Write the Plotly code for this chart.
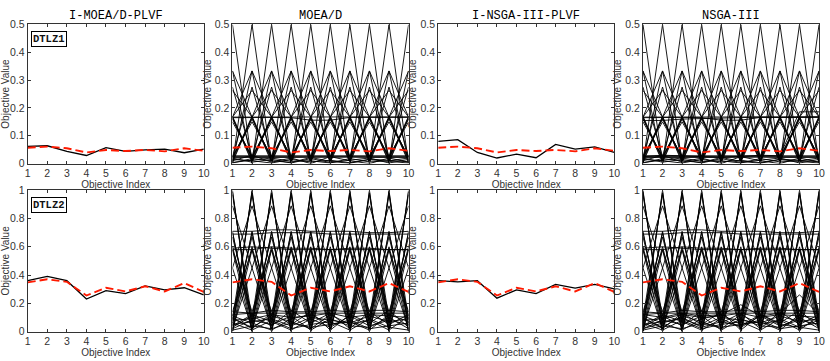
import plotly.graph_objects as go
from plotly.subplots import make_subplots

idx = list(range(1, 11))
titles = ["I-MOEA/D-PLVF", "MOEA/D", "I-NSGA-III-PLVF", "NSGA-III"]
problems = ["DTLZ1", "DTLZ2"]

# red dashed: reference (most preferred) point per problem
ref_dtlz1 = [0.057, 0.061, 0.055, 0.040, 0.049, 0.045, 0.049, 0.044, 0.055, 0.046]
ref_dtlz2 = [0.348, 0.370, 0.352, 0.255, 0.310, 0.284, 0.320, 0.284, 0.343, 0.280]

# interactive algorithms: single final solution
imoead_dtlz1 = [0.062, 0.064, 0.044, 0.029, 0.057, 0.044, 0.049, 0.052, 0.039, 0.052]
insga3_dtlz1 = [0.080, 0.086, 0.040, 0.020, 0.034, 0.021, 0.069, 0.052, 0.060, 0.040]
imoead_dtlz2 = [0.360, 0.390, 0.360, 0.230, 0.290, 0.268, 0.323, 0.295, 0.310, 0.260]
insga3_dtlz2 = [0.360, 0.352, 0.360, 0.236, 0.295, 0.268, 0.334, 0.307, 0.334, 0.302]

# whole populations (read approximately from the parallel coordinates)
moead_dtlz1 = [
    [0.5, 0.0, 0.5, 0.0, 0.5, 0.0, 0.5, 0.0, 0.5, 0.0],
    [0.0, 0.5, 0.0, 0.5, 0.0, 0.5, 0.0, 0.5, 0.0, 0.5],
    [0.333, 0.167, 0.333, 0.167, 0.333, 0.167, 0.333, 0.167, 0.333, 0.167],
    [0.167, 0.333, 0.167, 0.333, 0.167, 0.333, 0.167, 0.333, 0.167, 0.333],
    [0.333, 0.003, 0.333, 0.003, 0.333, 0.003, 0.333, 0.003, 0.333, 0.003],
    [0.003, 0.333, 0.003, 0.333, 0.003, 0.333, 0.003, 0.333, 0.003, 0.333],
    [0.275, 0.025, 0.275, 0.025, 0.275, 0.025, 0.275, 0.025, 0.275, 0.025],
    [0.025, 0.275, 0.025, 0.275, 0.025, 0.275, 0.025, 0.275, 0.025, 0.275],
    [0.263, 0.167, 0.263, 0.167, 0.263, 0.167, 0.263, 0.167, 0.263, 0.167],
    [0.167, 0.263, 0.167, 0.263, 0.167, 0.263, 0.167, 0.263, 0.167, 0.263],
    [0.167, 0.004, 0.167, 0.004, 0.167, 0.004, 0.167, 0.004, 0.167, 0.004],
    [0.004, 0.167, 0.004, 0.167, 0.004, 0.167, 0.004, 0.167, 0.004, 0.167],
    [0.170, 0.015, 0.170, 0.015, 0.170, 0.015, 0.170, 0.015, 0.170, 0.015],
    [0.015, 0.170, 0.015, 0.170, 0.015, 0.170, 0.015, 0.170, 0.015, 0.170],
    [0.160, 0.022, 0.160, 0.022, 0.160, 0.022, 0.160, 0.022, 0.160, 0.022],
    [0.022, 0.160, 0.022, 0.160, 0.022, 0.160, 0.022, 0.160, 0.022, 0.160],
    [0.150, 0.025, 0.150, 0.025, 0.150, 0.025, 0.150, 0.025, 0.150, 0.025],
    [0.025, 0.150, 0.025, 0.150, 0.025, 0.150, 0.025, 0.150, 0.025, 0.150],
    [0.164, 0.010, 0.164, 0.010, 0.164, 0.010, 0.164, 0.010, 0.164, 0.010],
    [0.010, 0.164, 0.010, 0.164, 0.010, 0.164, 0.010, 0.164, 0.010, 0.164],
    [0.167, 0.167, 0.168, 0.167, 0.167, 0.168, 0.168, 0.168, 0.168, 0.168],
    [0.165, 0.166, 0.166, 0.165, 0.156, 0.156, 0.166, 0.166, 0.167, 0.166],
    [0.025, 0.025, 0.025, 0.025, 0.025, 0.025, 0.025, 0.025, 0.025, 0.025],
    [0.028, 0.027, 0.028, 0.028, 0.027, 0.028, 0.028, 0.027, 0.028, 0.028],
    [0.022, 0.023, 0.022, 0.022, 0.023, 0.022, 0.023, 0.022, 0.022, 0.022],
    [0.010, 0.030, 0.005, 0.020, 0.000, 0.025, 0.010, 0.000, 0.020, 0.005],
    [0.020, 0.005, 0.015, 0.002, 0.018, 0.004, 0.012, 0.020, 0.002, 0.015],
    [0.004, 0.012, 0.020, 0.008, 0.010, 0.002, 0.018, 0.006, 0.010, 0.020],
    [0.015, 0.010, 0.002, 0.015, 0.006, 0.012, 0.003, 0.014, 0.008, 0.002],
    [0.002, 0.018, 0.010, 0.004, 0.022, 0.008, 0.001, 0.016, 0.012, 0.006],
]
nsga3_dtlz1 = moead_dtlz1 + [
    [0.025, 0.030, 0.028, 0.025, 0.022, 0.026, 0.030, 0.028, 0.186, 0.186],
    [0.155, 0.155, 0.160, 0.162, 0.165, 0.166, 0.167, 0.166, 0.168, 0.168],
]

moead_dtlz2 = [
    [1.00, 0.00, 1.00, 0.00, 1.00, 0.00, 1.00, 0.00, 1.00, 0.00],
    [0.00, 1.00, 0.00, 1.00, 0.00, 1.00, 0.00, 1.00, 0.00, 1.00],
    [0.97, 0.09, 0.97, 0.09, 0.97, 0.09, 0.97, 0.09, 0.97, 0.09],
    [0.09, 0.97, 0.09, 0.97, 0.09, 0.97, 0.09, 0.97, 0.09, 0.97],
    [0.99, 0.04, 0.99, 0.04, 0.99, 0.04, 0.99, 0.04, 0.99, 0.04],
    [0.04, 0.99, 0.04, 0.99, 0.04, 0.99, 0.04, 0.99, 0.04, 0.99],
    [0.89, 0.45, 0.89, 0.45, 0.89, 0.45, 0.89, 0.45, 0.89, 0.45],
    [0.45, 0.89, 0.45, 0.89, 0.45, 0.89, 0.45, 0.89, 0.45, 0.89],
    [0.71, 0.00, 0.71, 0.00, 0.71, 0.00, 0.71, 0.00, 0.71, 0.00],
    [0.00, 0.71, 0.00, 0.71, 0.00, 0.71, 0.00, 0.71, 0.00, 0.71],
    [0.70, 0.06, 0.70, 0.06, 0.70, 0.06, 0.70, 0.06, 0.70, 0.06],
    [0.06, 0.70, 0.06, 0.70, 0.06, 0.70, 0.06, 0.70, 0.06, 0.70],
    [0.67, 0.11, 0.67, 0.11, 0.67, 0.11, 0.67, 0.11, 0.67, 0.11],
    [0.11, 0.67, 0.11, 0.67, 0.11, 0.67, 0.11, 0.67, 0.11, 0.67],
    [0.58, 0.00, 0.58, 0.00, 0.58, 0.00, 0.58, 0.00, 0.58, 0.00],
    [0.00, 0.58, 0.00, 0.58, 0.00, 0.58, 0.00, 0.58, 0.00, 0.58],
    [0.60, 0.08, 0.60, 0.08, 0.60, 0.08, 0.60, 0.08, 0.60, 0.08],
    [0.08, 0.60, 0.08, 0.60, 0.08, 0.60, 0.08, 0.60, 0.08, 0.60],
    [0.58, 0.14, 0.58, 0.14, 0.58, 0.14, 0.58, 0.14, 0.58, 0.14],
    [0.14, 0.58, 0.14, 0.58, 0.14, 0.58, 0.14, 0.58, 0.14, 0.58],
    [0.45, 0.02, 0.45, 0.02, 0.45, 0.02, 0.45, 0.02, 0.45, 0.02],
    [0.02, 0.45, 0.02, 0.45, 0.02, 0.45, 0.02, 0.45, 0.02, 0.45],
    [0.71, 0.71, 0.72, 0.72, 0.71, 0.71, 0.71, 0.70, 0.70, 0.71],
    [0.69, 0.69, 0.70, 0.70, 0.70, 0.69, 0.69, 0.69, 0.69, 0.69],
    [0.58, 0.58, 0.60, 0.59, 0.59, 0.58, 0.58, 0.58, 0.58, 0.58],
    [0.59, 0.60, 0.59, 0.58, 0.58, 0.58, 0.59, 0.59, 0.58, 0.58],
    [0.10, 0.02, 0.13, 0.05, 0.14, 0.01, 0.12, 0.06, 0.15, 0.03],
    [0.03, 0.11, 0.04, 0.15, 0.06, 0.13, 0.02, 0.14, 0.05, 0.12],
    [0.08, 0.09, 0.12, 0.10, 0.11, 0.13, 0.10, 0.12, 0.11, 0.10],
    [0.01, 0.04, 0.02, 0.06, 0.03, 0.05, 0.08, 0.02, 0.04, 0.06],
    [0.06, 0.01, 0.08, 0.02, 0.05, 0.07, 0.01, 0.09, 0.03, 0.01],
    [0.14, 0.13, 0.15, 0.14, 0.14, 0.15, 0.14, 0.15, 0.15, 0.14],
    [0.05, 0.07, 0.09, 0.04, 0.10, 0.08, 0.06, 0.11, 0.07, 0.09],
    [0.12, 0.13, 0.13, 0.13, 0.13, 0.13, 0.13, 0.13, 0.13, 0.13],
    [0.02, 0.08, 0.05, 0.11, 0.01, 0.09, 0.04, 0.03, 0.10, 0.02],
    [0.09, 0.03, 0.11, 0.07, 0.02, 0.12, 0.05, 0.08, 0.01, 0.11],
    [0.04, 0.12, 0.07, 0.01, 0.09, 0.03, 0.11, 0.04, 0.08, 0.05],
    [0.11, 0.06, 0.01, 0.09, 0.12, 0.05, 0.07, 0.01, 0.12, 0.07],
]
nsga3_dtlz2 = moead_dtlz2 + [
    [0.12, 0.10, 0.13, 0.11, 0.12, 0.19, 0.11, 0.13, 0.26, 0.12],
    [0.02, 0.06, 0.10, 0.03, 0.07, 0.04, 0.12, 0.05, 0.03, 0.08],
]

panels = [
    [("single", imoead_dtlz1), ("pop", moead_dtlz1), ("single", insga3_dtlz1), ("pop", nsga3_dtlz1)],
    [("single", imoead_dtlz2), ("pop", moead_dtlz2), ("single", insga3_dtlz2), ("pop", nsga3_dtlz2)],
]
refs = [ref_dtlz1, ref_dtlz2]
ymax = [0.5, 1.0]
yticks = [[0, 0.1, 0.2, 0.3, 0.4, 0.5], [0, 0.2, 0.4, 0.6, 0.8, 1]]

xdom = [(0.0301, 0.2446), (0.2795, 0.4940), (0.5301, 0.7446), (0.7795, 0.9940)]
ydom = [(0.5485, 0.947), (0.0673, 0.4718)]

fig = make_subplots(rows=2, cols=4)

for r in range(2):
    for c in range(4):
        kind, data = panels[r][c]
        if kind == "single":
            fig.add_trace(go.Scatter(x=idx, y=data, mode='lines',
                                     line={'color': 'black', 'width': 1.3}), row=r + 1, col=c + 1)
        else:
            xs, ys = [], []
            for sol in data:
                xs += idx + [None]
                ys += sol + [None]
            fig.add_trace(go.Scatter(x=xs, y=ys, mode='lines', connectgaps=False,
                                     line={'color': 'black', 'width': 0.9}), row=r + 1, col=c + 1)
        fig.add_trace(go.Scatter(x=idx, y=refs[r], mode='lines',
                                 line={'color': '#ff1a00', 'width': 1.9, 'dash': '8px,4px'}),
                      row=r + 1, col=c + 1)

tick_font = dict(family="Liberation Sans, Arial", size=10.5, color="#333333")
title_font = dict(family="Liberation Sans, Arial", size=10, color="#333333")
for r in range(2):
    for c in range(4):
        n = r * 4 + c + 1
        xa = 'xaxis' if n == 1 else 'xaxis%d' % n
        ya = 'yaxis' if n == 1 else 'yaxis%d' % n
        fig.layout[xa].update(domain=xdom[c], range=[1, 10], tickvals=idx, ticks='inside',
                              ticklen=3, tickcolor='#333', showline=True, mirror='ticks',
                              linecolor='#333', linewidth=1, showgrid=False, zeroline=False,
                              tickfont=tick_font,
                              title=dict(text='Objective Index', font=title_font, standoff=0))
        fig.layout[ya].update(domain=ydom[r], range=[0, ymax[r]], tickvals=yticks[r],
                              ticktext=[('%g' % v) for v in yticks[r]],
                              ticks='inside', ticklen=3, tickcolor='#333', showline=True,
                              mirror='ticks', linecolor='#333', linewidth=1, showgrid=False,
                              zeroline=False, tickfont=tick_font,
                              title=dict(text='Objective Value', font=title_font, standoff=1))

for c in range(4):
    fig.add_annotation(x=(xdom[c][0] + xdom[c][1]) / 2, y=1 - 10 / 361, xref='paper', yref='paper',
                       text=titles[c], showarrow=False, xanchor='center', yanchor='middle',
                       font=dict(family="Liberation Mono, Courier New", size=12, color='black'))

box_y = [1 - 34.5 / 361, 1 - 206 / 361]
for r in range(2):
    fig.add_annotation(x=28 / 830, y=box_y[r], xref='paper', yref='paper', xanchor='left',
                       yanchor='middle', text='<b>%s</b>' % problems[r], showarrow=False,
                       bordercolor='black', borderwidth=1, borderpad=1, bgcolor='white',
                       font=dict(family="Liberation Mono, Courier New", size=10.5, color='#111'))

fig.update_layout(width=830, height=361, margin=dict(l=0, r=0, t=0, b=0),
                  showlegend=False, plot_bgcolor='white', paper_bgcolor='white')

fig.write_html("out.html", config={'displayModeBar': False},
               post_script="document.body.style.margin='0px';")
